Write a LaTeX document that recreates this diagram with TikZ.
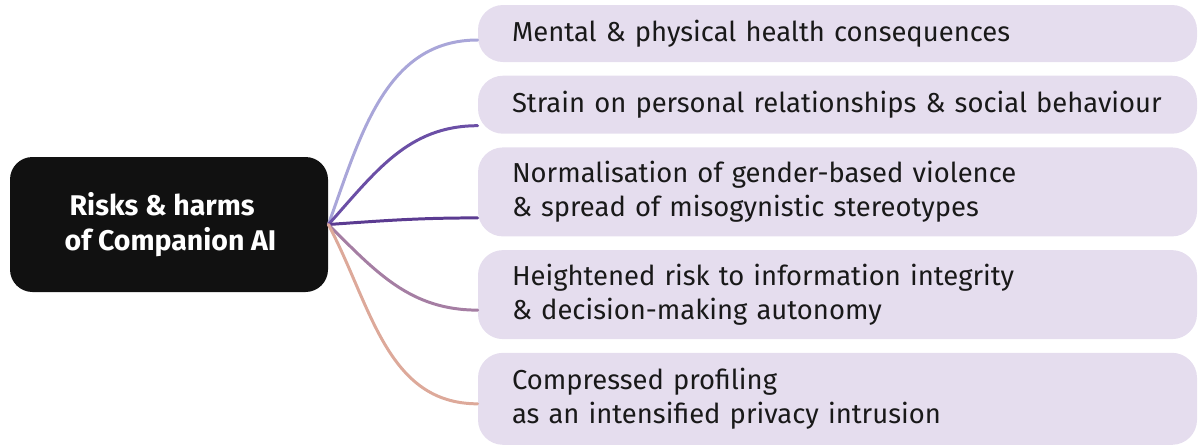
\documentclass[tikz,border=0pt]{standalone}
\usepackage{fontspec}
\setmainfont{Fira Sans}
\usetikzlibrary{positioning}

\definecolor{boxfill}{HTML}{E5DDEE}
\definecolor{rootfill}{HTML}{111111}
\definecolor{linkA}{HTML}{A9A6D9}
\definecolor{linkB}{HTML}{6B4FA6}
\definecolor{linkC}{HTML}{5B3B91}
\definecolor{linkD}{HTML}{A57EA3}
\definecolor{linkE}{HTML}{DDA99A}

\begin{document}
\begin{tikzpicture}[
node distance=0.26cm,
root/.style={rectangle, rounded corners=0.45cm, fill=rootfill, text=white, align=left, minimum width=6.36cm, minimum height=2.7cm, font=\fontsize{16.2}{19.6}\selectfont\bfseries},
risk/.style={rectangle, rounded corners=0.5cm, fill=boxfill, text=black!90, align=left, text width=13.02cm, inner xsep=0.68cm, font=\fontsize{15.6}{19.4}\selectfont},
link/.style={line width=1.7pt, line cap=round}
]
\useasboundingbox (0,0) rectangle (24,-8.94);

\node[root] (root) at (3.38,-4.49) {\hspace*{0.16cm}Risks \& harms\\\hspace*{0.06cm}of Companion AI};

\node[risk, minimum height=1.14cm] (health) at (16.75,-0.67) {Mental \& physical health consequences};
\node[risk, minimum height=1.16cm, below=of health] (social) {Strain on personal relationships \& social behaviour};
\node[risk, minimum height=1.78cm, below=of social] (gender) {Normalisation of gender-based violence\\\& spread of misogynistic stereotypes};
\node[risk, minimum height=1.78cm, below=of gender] (integrity) {Heightened risk to information integrity\\\& decision-making autonomy};
\node[risk, minimum height=1.84cm, below=of integrity] (privacy) {Compressed profiling\\as an intensified privacy intrusion};

\draw[link, linkA] (root.east) to[out=70, in=180] ([yshift=-0.13cm]health.west);
\draw[link, linkB] (root.east) to[out=48, in=180] ([yshift=-0.42cm]social.west);
\draw[link, linkC] (root.east) to[out=4, in=180] ([yshift=-0.52cm]gender.west);
\draw[link, linkD] (root.east) to[out=-45, in=180] ([yshift=-0.31cm]integrity.west);
\draw[link, linkE] (root.east) to[out=-62, in=180] ([yshift=-0.1cm]privacy.west);
\end{tikzpicture}
\end{document}
